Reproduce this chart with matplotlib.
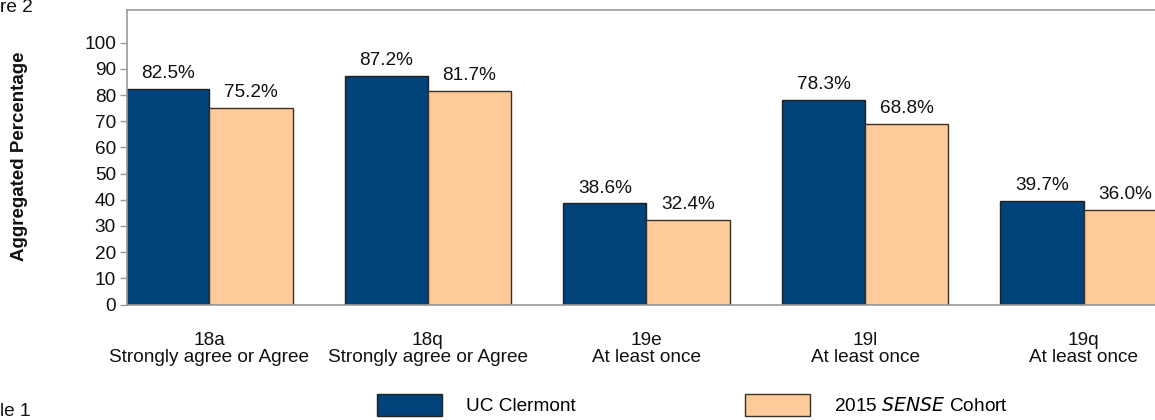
import matplotlib
matplotlib.use("Agg")
import matplotlib.pyplot as plt
import numpy as np
from matplotlib.patches import Patch

plt.rcParams['font.family'] = ['Liberation Sans', 'DejaVu Sans']

codes = ["18a", "18q", "19e", "19l", "19q"]
responses = ["Strongly agree or Agree", "Strongly agree or Agree",
             "At least once", "At least once", "At least once"]
uc_clermont = [82.5, 87.2, 38.6, 78.3, 39.7]
sense_cohort = [75.2, 81.7, 32.4, 68.8, 36.0]
yticks = [0, 10, 20, 30, 40, 50, 60, 70, 80, 90, 100]

BLUE = "#00427A"
ORANGE = "#FFCA99"
GREY = "#999999"
FS = 13.7

W, H = 1155, 420
fig = plt.figure(figsize=(W / 100, H / 100), dpi=100)
ax = fig.add_axes([127 / W, 115.5 / H, 1 - 127 / W, (304.5 - 9.5) / H])

x = np.arange(len(codes))
bw = 0.381
b1 = ax.bar(x - bw / 2, uc_clermont, bw, color=BLUE, edgecolor="#222222", linewidth=1.0)
b2 = ax.bar(x + bw / 2, sense_cohort, bw, color=ORANGE, edgecolor="#3a3024", linewidth=1.0)

for bars, vals in ((b1, uc_clermont), (b2, sense_cohort)):
    for r, v in zip(bars, vals):
        ax.annotate(f"{v:.1f}%", (r.get_x() + r.get_width() / 2, v),
                    xytext=(0, 5), textcoords="offset points",
                    ha="center", va="bottom", fontsize=FS, color="#111111")

ax.set_xlim(-0.376, 4.326)
ax.set_ylim(0, 112.7)
ax.set_yticks(yticks)
ax.set_yticklabels([str(t) for t in yticks], fontsize=FS, color="#111111")
ax.set_xticks(x)
ax.set_xticklabels([f"{c}\n{r}" for c, r in zip(codes, responses)],
                   fontsize=FS, color="#111111", linespacing=1.0)
ax.tick_params(axis="x", length=0, pad=20)
ax.tick_params(axis="y", length=5, width=1, color=GREY, pad=3)

for s in ("left", "bottom", "top"):
    ax.spines[s].set_color(GREY)
    ax.spines[s].set_linewidth(1.2)
ax.spines["right"].set_visible(False)

fig.text(20 / W, 1 - 156 / H, "Aggregated Percentage", rotation=90,
         ha="center", va="center", fontsize=13.5, fontweight="bold", color="#111111")

fig.text(0, 1 - 8 / H, "re 2", ha="left", va="center", fontsize=FS, color="#111111")
fig.text(0, 1 - 411 / H, "le 1", ha="left", va="center", fontsize=FS, color="#111111")

# legend: two entries placed separately
fs_px = FS * 100 / 72
entries = [(Patch(facecolor=BLUE, edgecolor="#222222"), "UC Clermont", 377),
           (Patch(facecolor=ORANGE, edgecolor="#3a3024"), "2015 $\\it{SENSE}$ Cohort", 745)]
for handle, label, xpx in entries:
    lg = fig.legend([handle], [label], loc="center left",
                    bbox_to_anchor=(xpx / W, 1 - 405 / H),
                    frameon=False, fontsize=FS,
                    handlelength=65 / fs_px, handleheight=26 / fs_px,
                    handletextpad=24 / fs_px, borderpad=0, borderaxespad=0)

fig.savefig("out.png", dpi=100)
